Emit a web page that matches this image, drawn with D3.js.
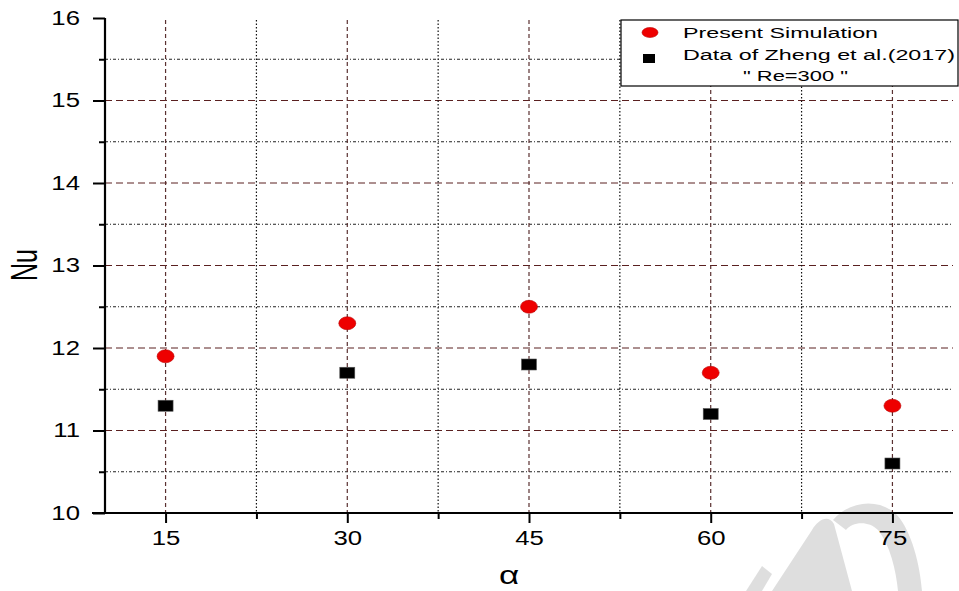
<!DOCTYPE html>
<html><head><meta charset="utf-8">
<script src="https://cdn.jsdelivr.net/npm/d3@7"></script>
<style>body{margin:0;background:#fff}svg{display:block;font-family:Arial,"Liberation Sans",sans-serif}</style>
</head><body><svg id="c" width="959" height="591"></svg>
<script>
const alphaCats = [15, 30, 45, 60, 75];
const presentNu = [11.9, 12.3, 12.5, 11.7, 11.3];
const zhengNu = [11.3, 11.7, 11.8, 11.2, 10.6];
const yTicks = [10, 11, 12, 13, 14, 15, 16];
const yMinor = [10.5, 11.5, 12.5, 13.5, 14.5, 15.5];
const xTicks = [15, 30, 45, 60, 75];
const xMinor = [22.5, 37.5, 52.5, 67.5];
const legendLabels = ["Present Simulation", "Data of Zheng et al.(2017)", "\" Re=300 \""];

const SX = 1.32; // horizontal stretch of the original figure's text
const svg = d3.select("#c");
const x = d3.scaleLinear().domain([10, 80]).range([105, 953]);
const y = d3.scaleLinear().domain([10, 16]).range([513, 18]);

// grid
const g = svg.append("g");
g.selectAll(".hmin").data(yMinor).join("line")
  .attr("x1", 105).attr("x2", 953).attr("y1", d => y(d)).attr("y2", d => y(d))
  .attr("stroke", "#222").attr("stroke-width", 1).attr("stroke-dasharray", "3,2,1,2");
g.selectAll(".hmaj").data(yTicks.filter(d => d > 10 && d < 16)).join("line")
  .attr("x1", 105).attr("x2", 953).attr("y1", d => y(d)).attr("y2", d => y(d))
  .attr("stroke", "#5a2020").attr("stroke-width", 1).attr("stroke-dasharray", "7,4");
g.selectAll(".vmin").data(xMinor).join("line")
  .attr("x1", d => x(d)).attr("x2", d => x(d)).attr("y1", 20).attr("y2", 513)
  .attr("stroke", "#111").attr("stroke-width", 1.2).attr("stroke-dasharray", "1.5,2");
g.selectAll(".vmaj").data(xTicks).join("line")
  .attr("x1", d => x(d)).attr("x2", d => x(d)).attr("y1", 20).attr("y2", 513)
  .attr("stroke", "#5a3030").attr("stroke-width", 1.2).attr("stroke-dasharray", "4,3");

// axes
const yAx = svg.append("g").attr("transform", "translate(105,0)")
  .call(d3.axisLeft(y).tickValues(yTicks).tickSize(12).tickPadding(12).tickFormat(d3.format("d")));
svg.append("g").attr("transform", "translate(105,0)")
  .call(d3.axisLeft(y).tickValues(yMinor).tickSize(6).tickFormat(""))
  .call(a => a.select(".domain").remove());
const xAx = svg.append("g").attr("transform", "translate(0,513)")
  .call(d3.axisBottom(x).tickValues(xTicks).tickSize(10).tickPadding(8).tickFormat(d3.format("d")));
svg.append("g").attr("transform", "translate(0,513)")
  .call(d3.axisBottom(x).tickValues(xMinor).tickSize(6).tickFormat(""))
  .call(a => a.select(".domain").remove());
svg.selectAll(".domain").attr("stroke", "#000").attr("stroke-width", 2.2);
svg.selectAll(".tick line").attr("stroke", "#000").attr("stroke-width", 2);
yAx.select(".domain").attr("d", "M0,18V513");
xAx.select(".domain").attr("d", "M92,0H953");
svg.selectAll(".tick text").attr("font-size", 19.5).attr("fill", "#000")
  .attr("font-family", "Arial, 'Liberation Sans', sans-serif")
  .attr("transform", `scale(${SX},1)`);
yAx.selectAll(".tick text").attr("x", -25 / SX);

// axis titles
svg.append("text").attr("transform", `translate(37,265) scale(1.5,1) rotate(-90)`)
  .attr("text-anchor", "middle").attr("font-size", 25).text("Nu");
svg.append("text").attr("transform", `translate(509,584) scale(1.4,1)`)
  .attr("text-anchor", "middle").attr("font-size", 25).text("α");

// data
svg.selectAll(".sq").data(zhengNu).join("rect")
  .attr("x", (d, i) => x(alphaCats[i]) - 7.5).attr("y", d => y(d) - 5.5)
  .attr("width", 15).attr("height", 11).attr("fill", "#000").attr("stroke", "#555").attr("stroke-width", 0.6);
svg.selectAll(".ci").data(presentNu).join("ellipse")
  .attr("cx", (d, i) => x(alphaCats[i])).attr("cy", d => y(d))
  .attr("rx", 8.5).attr("ry", 6.5).attr("fill", "#ee0000").attr("stroke", "#b00").attr("stroke-width", 0.6);

// legend
const lg = svg.append("g");
lg.append("rect").attr("x", 621).attr("y", 20).attr("width", 337).attr("height", 66)
  .attr("fill", "#fff").attr("stroke", "#000").attr("stroke-width", 1.2);
lg.append("ellipse").attr("cx", 650).attr("cy", 32.5).attr("rx", 8).attr("ry", 5).attr("fill", "#ee0000").attr("stroke", "#b00").attr("stroke-width", 0.6);
lg.append("rect").attr("x", 643).attr("y", 54).attr("width", 12).attr("height", 9).attr("fill", "#000");
lg.append("text").attr("x", 683).attr("y", 37.5).attr("font-size", 15.5)
  .attr("textLength", 195).attr("lengthAdjust", "spacingAndGlyphs").text(legendLabels[0]);
lg.append("text").attr("x", 683).attr("y", 60).attr("font-size", 15.5)
  .attr("textLength", 272).attr("lengthAdjust", "spacingAndGlyphs").text(legendLabels[1]);
lg.append("text").attr("x", 743).attr("y", 81).attr("font-size", 15.5)
  .attr("textLength", 105).attr("lengthAdjust", "spacingAndGlyphs").text(legendLabels[2]);

// watermark (faint logo)
const wm = svg.append("g").attr("fill", "#000").attr("fill-opacity", 0.13);
wm.append("path").attr("d", "M833,520 C850,500 880,498 897,515 C912,532 920,565 922,591 L898,591 C896,570 890,545 878,530 C868,520 852,522 846,530 Z");
wm.append("path").attr("d", "M772,591 L812,530 C818,520 828,514 834,524 L852,591 Z");
wm.append("path").attr("d", "M746,591 L762,566 L772,574 L762,591 Z");
</script></body></html>
